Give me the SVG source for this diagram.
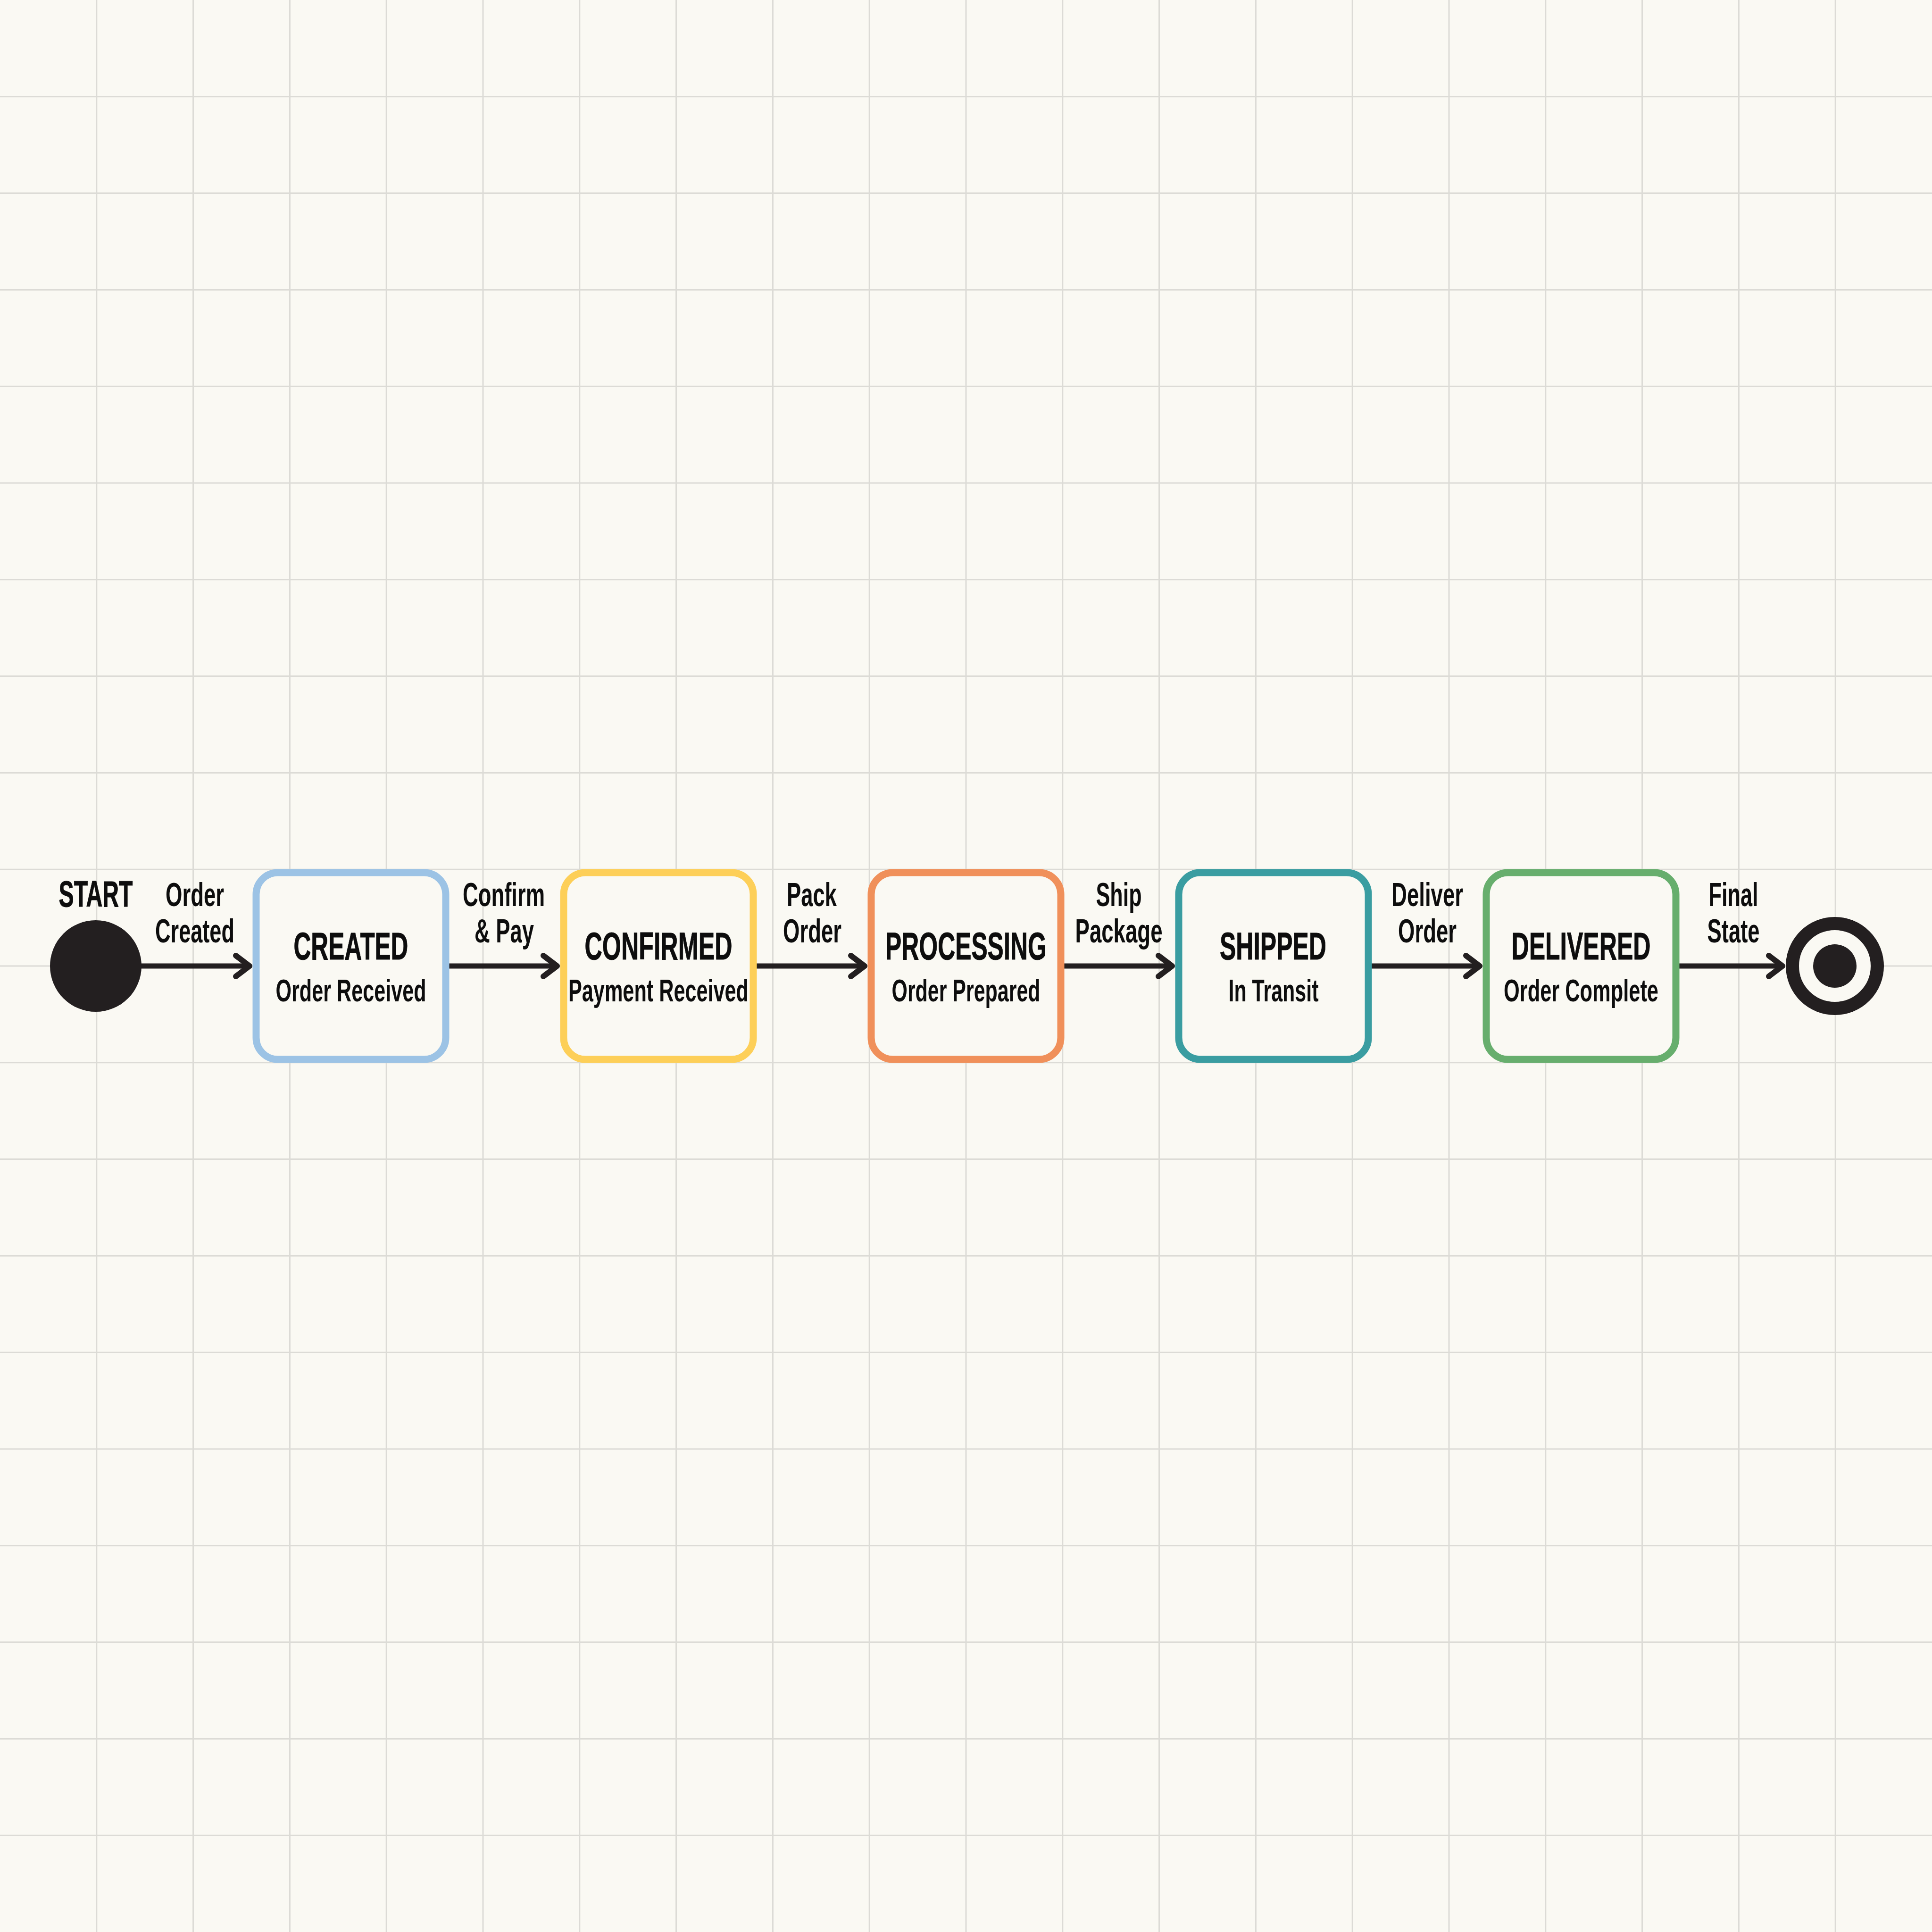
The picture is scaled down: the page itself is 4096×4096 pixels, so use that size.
<svg xmlns="http://www.w3.org/2000/svg" width="4096" height="4096" viewBox="0 0 4096 4096">
  <style>
    .grid { stroke: #dcdbd6; stroke-width: 3; fill: none; }
    .box { fill: #faf9f3; stroke-width: 15; }
    .title { font-family: "Liberation Sans Narrow", "Liberation Sans", "DejaVu Sans Condensed", sans-serif; font-weight: bold; font-size: 81px; fill: #0d0d0d; stroke: #0d0d0d; stroke-width: 1; text-anchor: middle; }
    .sub { font-family: "Liberation Sans Narrow", "Liberation Sans", "DejaVu Sans Condensed", sans-serif; font-weight: bold; font-size: 67px; fill: #0d0d0d; text-anchor: middle; }
    .lbl { font-family: "Liberation Sans Narrow", "Liberation Sans", "DejaVu Sans Condensed", sans-serif; font-weight: bold; font-size: 70px; fill: #0d0d0d; text-anchor: middle; }
    .start { font-family: "Liberation Sans Narrow", "Liberation Sans", "DejaVu Sans Condensed", sans-serif; font-weight: bold; font-size: 77px; fill: #0d0d0d; stroke: #0d0d0d; stroke-width: 1; text-anchor: middle; }
    .conn { stroke: #231f20; stroke-width: 11; fill: none; marker-end: url(#arrow); }
  </style>
  <defs>
    <marker id="arrow" markerUnits="userSpaceOnUse" viewBox="-50 -40 60 80" refX="0" refY="0" markerWidth="60" markerHeight="80" orient="auto">
      <path d="M -29 -22 L 0 0 L -29 22" fill="none" stroke="#231f20" stroke-width="12" stroke-linecap="round" stroke-linejoin="round"/>
    </marker>
  </defs>

  <rect x="0" y="0" width="4096" height="4096" fill="#faf9f3"/>
  <path class="grid" d="M204.8 0V4096M409.6 0V4096M614.4 0V4096M819.2 0V4096M1024 0V4096M1228.8 0V4096M1433.6 0V4096M1638.4 0V4096M1843.2 0V4096M2048 0V4096M2252.8 0V4096M2457.6 0V4096M2662.4 0V4096M2867.2 0V4096M3072 0V4096M3276.8 0V4096M3481.6 0V4096M3686.4 0V4096M3891.2 0V4096M0 204.8H4096M0 409.6H4096M0 614.4H4096M0 819.2H4096M0 1024H4096M0 1228.8H4096M0 1433.6H4096M0 1638.4H4096M0 1843.2H4096M0 2048H4096M0 2252.8H4096M0 2457.6H4096M0 2662.4H4096M0 2867.2H4096M0 3072H4096M0 3276.8H4096M0 3481.6H4096M0 3686.4H4096M0 3891.2H4096"/>

  <g id="connectors">
    <line class="conn" x1="298" y1="2048" x2="529" y2="2048"/>
    <line class="conn" x1="952" y1="2048" x2="1181" y2="2048"/>
    <line class="conn" x1="1604" y1="2048" x2="1833" y2="2048"/>
    <line class="conn" x1="2256" y1="2048" x2="2485" y2="2048"/>
    <line class="conn" x1="2908" y1="2048" x2="3137" y2="2048"/>
    <line class="conn" x1="3560" y1="2048" x2="3779" y2="2048"/>
    <text class="lbl" x="413" y="1921" textLength="124" lengthAdjust="spacingAndGlyphs">Order</text>
    <text class="lbl" x="413" y="1998" textLength="168" lengthAdjust="spacingAndGlyphs">Created</text>
    <text class="lbl" x="1068" y="1921" textLength="174" lengthAdjust="spacingAndGlyphs">Confirm</text>
    <text class="lbl" x="1069" y="1998" textLength="126" lengthAdjust="spacingAndGlyphs">&amp; Pay</text>
    <text class="lbl" x="1721" y="1921" textLength="106" lengthAdjust="spacingAndGlyphs">Pack</text>
    <text class="lbl" x="1722" y="1998" textLength="124" lengthAdjust="spacingAndGlyphs">Order</text>
    <text class="lbl" x="2372" y="1921" textLength="97" lengthAdjust="spacingAndGlyphs">Ship</text>
    <text class="lbl" x="2372" y="1998" textLength="185" lengthAdjust="spacingAndGlyphs">Package</text>
    <text class="lbl" x="3026" y="1921" textLength="152" lengthAdjust="spacingAndGlyphs">Deliver</text>
    <text class="lbl" x="3026" y="1998" textLength="124" lengthAdjust="spacingAndGlyphs">Order</text>
    <text class="lbl" x="3675" y="1921" textLength="105" lengthAdjust="spacingAndGlyphs">Final</text>
    <text class="lbl" x="3675" y="1998" textLength="111" lengthAdjust="spacingAndGlyphs">State</text>
  </g>

  <g id="start">
    <circle cx="203" cy="2048" r="97" fill="#231f20"/>
    <text class="start" x="203" y="1922" textLength="157" lengthAdjust="spacingAndGlyphs">START</text>
  </g>

  <g id="created">
    <rect class="box" x="543" y="1850" width="402" height="396" rx="46" stroke="#9cc3e5"/>
    <text class="title" x="744" y="2034" textLength="243" lengthAdjust="spacingAndGlyphs">CREATED</text>
    <text class="sub" x="744" y="2123" textLength="319" lengthAdjust="spacingAndGlyphs">Order Received</text>
  </g>

  <g id="confirmed">
    <rect class="box" x="1195" y="1850" width="402" height="396" rx="46" stroke="#fdcf58"/>
    <text class="title" x="1396" y="2034" textLength="313" lengthAdjust="spacingAndGlyphs">CONFIRMED</text>
    <text class="sub" x="1396" y="2123" textLength="382" lengthAdjust="spacingAndGlyphs">Payment Received</text>
  </g>

  <g id="processing">
    <rect class="box" x="1847" y="1850" width="402" height="396" rx="46" stroke="#f0905a"/>
    <text class="title" x="2048" y="2034" textLength="342" lengthAdjust="spacingAndGlyphs">PROCESSING</text>
    <text class="sub" x="2048" y="2123" textLength="315" lengthAdjust="spacingAndGlyphs">Order Prepared</text>
  </g>

  <g id="shipped">
    <rect class="box" x="2499" y="1850" width="402" height="396" rx="46" stroke="#3a9da1"/>
    <text class="title" x="2699" y="2034" textLength="226" lengthAdjust="spacingAndGlyphs">SHIPPED</text>
    <text class="sub" x="2700" y="2123" textLength="191" lengthAdjust="spacingAndGlyphs">In Transit</text>
  </g>

  <g id="delivered">
    <rect class="box" x="3151" y="1850" width="402" height="396" rx="46" stroke="#67ae6d"/>
    <text class="title" x="3352" y="2034" textLength="295" lengthAdjust="spacingAndGlyphs">DELIVERED</text>
    <text class="sub" x="3352" y="2123" textLength="328" lengthAdjust="spacingAndGlyphs">Order Complete</text>
  </g>

  <g id="end">
    <circle cx="3890" cy="2048" r="90" fill="#faf9f3" stroke="#231f20" stroke-width="28"/>
    <circle cx="3890" cy="2048" r="46" fill="#231f20"/>
  </g>
</svg>
